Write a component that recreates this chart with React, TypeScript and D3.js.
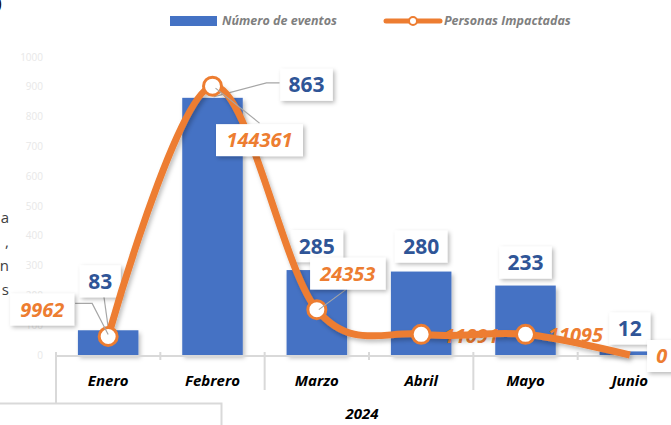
import React from 'react';
import * as d3 from 'd3';

const months = ['Enero', 'Febrero', 'Marzo', 'Abril', 'Mayo', 'Junio'];
const eventos = [83, 863, 285, 280, 233, 12];
const personas = [9962, 144361, 24353, 11091, 11095, 0];
const yTicks = [0, 100, 200, 300, 400, 500, 600, 700, 800, 900, 1000];
const groupLabel = '2024';
const legendLabels = ['Número de eventos', 'Personas Impactadas'];
const sideFragments = ['a', ',', 'n', 's'];

// label layout (offsets relative to the mark)
const barLabelOffsets = [[-8, -49], [94, -13], [0, -24], [0, -25], [0, -23], [0, -23]];
const lineLabelOffsets = [[-66, -27], [47, 54], [31, -36], [50, 1], [50, 0], [32, 1]];
const lineLabelBoxed = [true, true, true, false, false, true];
const barLeaders: (number[][] | null)[] = [[[-5, -39], [0, -3]], [[67, -15], [54, -15], [1, -1]], null, null, null, null];
const lineLeaders: (number[][] | null)[] = [[[-33, -33], [-16, -33], [0, -2]], [[47, 37], [3, 2]], [[29, -20], [2, 0]], null, null, null];

const W = 671, H = 425;
const BLUE = '#4472c4';
const BLUE_TXT = '#2f5597';
const ORANGE = '#ed7d31';
const FONT = '"Open Sans", Roboto, sans-serif';

export default function App() {
  const x = d3.scaleBand<string>().domain(months).range([56, 682]).paddingInner(0.42).paddingOuter(0.21);
  const y = d3.scaleLinear().domain([0, 1000]).range([355, 57]);
  const y2 = d3.scaleLinear().domain([0, 160000]).range([355, 57]);
  const cx = (m: string) => (x(m) as number) + x.bandwidth() / 2;
  const step = x.step();
  const pts: [number, number][] = months.map((m, i) => [cx(m), y2(personas[i])]);
  const line = d3.line().curve(d3.curveCardinal.tension(0))(pts) as string;
  const boxW = (s: string) => s.length * 11.5 + 18;
  const boundaries = d3.range(0, months.length).map((i) => 56 + i * step);

  return (
    <svg width={W} height={H} style={{ position: 'absolute', left: 0, top: 0, background: '#fff' }} fontFamily={FONT}>
      <defs>
        <filter id="sh" x="-30%" y="-30%" width="160%" height="160%">
          <feDropShadow dx="2" dy="2" stdDeviation="2" floodColor="#000" floodOpacity="0.28" />
        </filter>
        <filter id="shl" x="-10%" y="-10%" width="120%" height="120%">
          <feDropShadow dx="2" dy="3" stdDeviation="2" floodColor="#000" floodOpacity="0.25" />
        </filter>
      </defs>

      {/* stray page fragments */}
      <text x={-3} y={9} fontSize={16} fill="#000" fontFamily={FONT}>)</text>
      {sideFragments.map((f, i) => (
        <text key={i} x={9} y={223 + i * 24} fontSize={15} fill="#404040" textAnchor="end">{f}</text>
      ))}
      <path d="M0,403.5H221.5V425" fill="none" stroke="#d9d9d9" strokeWidth={2} />

      {/* y axis tick labels */}
      {yTicks.map((t) => (
        <text key={t} x={43} y={y(t)} dy="0.35em" fontSize={10} fill="#e8e8e8" textAnchor="end">{t}</text>
      ))}

      {/* legend */}
      <rect x={170} y={16} width={47} height={10} fill={BLUE} />
      <text x={222} y={25} fontSize={12.5} fontWeight={700} fontStyle="italic" fill="#7f7f7f">{legendLabels[0]}</text>
      <line x1={386} x2={440} y1={21} y2={21} stroke={ORANGE} strokeWidth={5} strokeLinecap="round" />
      <circle cx={413} cy={21} r={4} fill="#fff" stroke={ORANGE} strokeWidth={2} />
      <text x={444} y={25} fontSize={12.5} fontWeight={700} fontStyle="italic" fill="#7f7f7f">{legendLabels[1]}</text>

      {/* bars */}
      <g filter="url(#shl)">
        {months.map((m, i) => (
          <rect key={m} x={x(m)} y={y(eventos[i])} width={x.bandwidth()} height={y(0) - y(eventos[i])} fill={BLUE} />
        ))}
      </g>

      {/* x axis */}
      <line x1={55} x2={W} y1={356} y2={356} stroke="#d9d9d9" strokeWidth={2} />
      {boundaries.map((bx, i) => (
        <line key={i} x1={bx} x2={bx} y1={352} y2={i === 0 ? 404 : i % 2 === 0 ? 390 : 360} stroke="#d9d9d9" strokeWidth={2} />
      ))}
      {months.map((m) => (
        <text key={m} x={cx(m)} y={386} fontSize={15} fontWeight={700} fontStyle="italic" fill="#000" textAnchor="middle">{m}</text>
      ))}
      <text x={362} y={419} fontSize={15} fontWeight={700} fontStyle="italic" fill="#000" textAnchor="middle">{groupLabel}</text>

      {/* bar label leaders & boxes */}
      {months.map((m, i) => {
        const ld = barLeaders[i];
        if (!ld) return null;
        const bx = cx(m), by = y(eventos[i]);
        return <polyline key={m} points={ld.map((p) => `${bx + p[0]},${by + p[1]}`).join(' ')} fill="none" stroke="#a6a6a6" strokeWidth={1.2} />;
      })}
      {months.map((m, i) => {
        const s = String(eventos[i]);
        const lx = cx(m) + barLabelOffsets[i][0];
        const ly = y(eventos[i]) + barLabelOffsets[i][1];
        const w = boxW(s);
        return (
          <g key={m}>
            <rect x={lx - w / 2} y={ly - 16} width={w} height={32} fill="#fff" filter="url(#sh)" />
            <text x={lx} y={ly} dy="0.36em" fontSize={21} fontWeight={700} fill={BLUE_TXT} textAnchor="middle">{s}</text>
          </g>
        );
      })}

      {/* unboxed line labels (beneath the line) */}
      {months.map((m, i) => {
        if (lineLabelBoxed[i]) return null;
        const [px, py] = pts[i];
        return (
          <text key={m} x={px + lineLabelOffsets[i][0]} y={py + lineLabelOffsets[i][1]} dy="0.36em" fontSize={20} fontWeight={700} fontStyle="italic" fill={ORANGE} textAnchor="middle">{personas[i]}</text>
        );
      })}

      {/* line */}
      <path d={line} fill="none" stroke={ORANGE} strokeWidth={7} filter="url(#shl)" />
      {pts.slice(0, -1).map(([px, py], i) => (
        <circle key={i} cx={px} cy={py} r={9} fill="#fff" stroke={ORANGE} strokeWidth={3} />
      ))}

      {/* line leaders & boxed labels */}
      {months.map((m, i) => {
        const ld = lineLeaders[i];
        if (!ld) return null;
        const [px, py] = pts[i];
        return <polyline key={m} points={ld.map((p) => `${px + p[0]},${py + p[1]}`).join(' ')} fill="none" stroke="#a6a6a6" strokeWidth={1.2} />;
      })}
      {months.map((m, i) => {
        if (!lineLabelBoxed[i]) return null;
        const s = String(personas[i]);
        const [px, py] = pts[i];
        const lx = px + lineLabelOffsets[i][0];
        const ly = py + lineLabelOffsets[i][1];
        const w = boxW(s);
        return (
          <g key={m}>
            <rect x={lx - w / 2} y={ly - 16} width={w} height={32} fill="#fff" filter="url(#sh)" />
            <text x={lx} y={ly} dy="0.36em" fontSize={20} fontWeight={700} fontStyle="italic" fill={ORANGE} textAnchor="middle">{s}</text>
          </g>
        );
      })}
    </svg>
  );
}
